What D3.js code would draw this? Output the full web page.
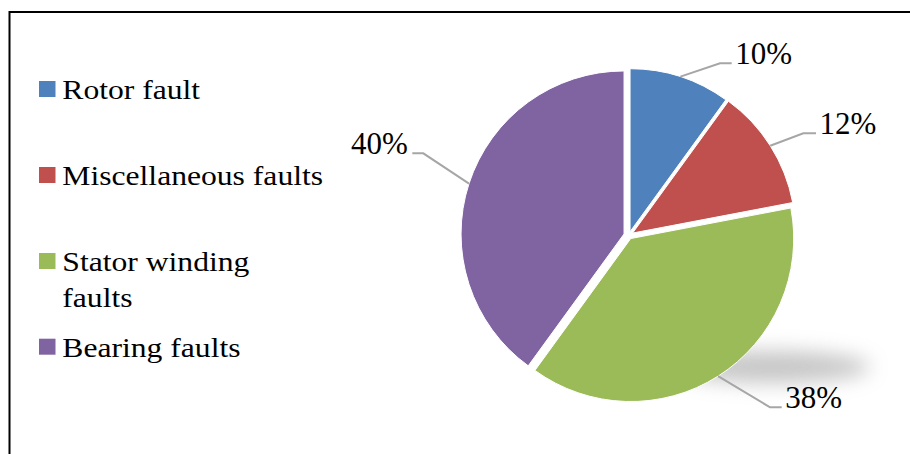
<!DOCTYPE html>
<html>
<head>
<meta charset="utf-8">
<script src="https://cdn.jsdelivr.net/npm/d3@7"></script>
<style>
  body { margin: 0; background: #fff; }
  svg { display: block; }
</style>
</head>
<body>
<svg width="910" height="454"></svg>
<script>
const categories = ['Rotor fault', 'Miscellaneous faults', 'Stator winding faults', 'Bearing faults']
const shares = [10, 12, 38, 40]
const labels = ['10%', '12%', '38%', '40%']
const colors = ['#4f81bd', '#c0504d', '#9bbb59', '#8064a2']
const font = '"Liberation Serif", "Times New Roman", serif'

const svg = d3.select('svg')
const width = +svg.attr('width')
const height = +svg.attr('height')

// frame (only top + left visible in the crop)
svg.append('path')
  .attr('d', `M9.5,${height} V12 H${width}`)
  .attr('fill', 'none')
  .attr('stroke', '#000')
  .attr('stroke-width', 2)

// soft shadow under the pie
const defs = svg.append('defs')
defs.append('filter').attr('id', 'blur')
  .attr('x', '-50%').attr('y', '-150%').attr('width', '200%').attr('height', '400%')
  .append('feGaussianBlur').attr('stdDeviation', 10)

svg.append('ellipse')
  .attr('cx', 772).attr('cy', 367)
  .attr('rx', 98).attr('ry', 16)
  .attr('fill', '#b4b4b4')
  .attr('opacity', 0.75)
  .attr('filter', 'url(#blur)')

const cx = 628.8, cy = 235.5, radius = 163
const explode = [4, 4.5, 3.6, 5]

const pie = d3.pie().sort(null).value(d => d)
const arcs = pie(shares)
const arc = d3.arc().innerRadius(0).outerRadius(radius)

const g = svg.append('g').attr('transform', `translate(${cx},${cy})`)

const offset = (d, i) => {
  const a = (d.startAngle + d.endAngle) / 2
  return [Math.sin(a) * explode[i], -Math.cos(a) * explode[i]]
}

g.selectAll('.slice')
  .data(arcs)
  .enter()
  .append('path')
  .attr('class', 'slice')
  .attr('transform', (d, i) => `translate(${offset(d, i)})`)
  .attr('d', arc)
  .attr('fill', (d, i) => colors[i])
  .attr('stroke', '#fff')
  .attr('stroke-width', 1)

// data labels with leader lines (elbow + label anchor positions, relative to pie centre)
const labelPos = [
  { elbow: [91.2, -172.2], end: [102.9, -172.2], anchor: 'start' },
  { elbow: [174.5, -102.2], end: [187.2, -102.2], anchor: 'start' },
  { elbow: [141.2, 171.8], end: [152.9, 171.8], anchor: 'start' },
  { elbow: [-205.5, -82.2], end: [-216.5, -82.2], anchor: 'end' }
]

arcs.forEach((d, i) => {
  const a = (d.startAngle + d.endAngle) / 2
  const o = offset(d, i)
  const p0 = [o[0] + Math.sin(a) * radius, o[1] - Math.cos(a) * radius]
  const lp = labelPos[i]
  g.append('path')
    .attr('d', d3.line()([p0, lp.elbow, lp.end]))
    .attr('fill', 'none')
    .attr('stroke', '#a6a6a6')
    .attr('stroke-width', 2)
  g.append('text')
    .attr('x', lp.end[0] + (lp.anchor === 'start' ? 3.5 : -4.5))
    .attr('y', lp.end[1] + 1)
    .attr('text-anchor', lp.anchor)
    .style('font-family', font)
    .style('font-size', '31px')
    .text(labels[i])
})

// legend
const legendRows = [
  { y: 99, lines: ['Rotor fault'] },
  { y: 185, lines: ['Miscellaneous faults'] },
  { y: 271, lines: ['Stator winding', 'faults'] },
  { y: 356.7, lines: ['Bearing faults'] }
]

const legend = svg.append('g')
legendRows.forEach((r, i) => {
  legend.append('rect')
    .attr('x', 39).attr('y', r.y - 18)
    .attr('width', 16.5).attr('height', 16)
    .attr('fill', colors[i])
  const t = legend.append('text')
    .attr('transform', `translate(62.3,${r.y}) scale(1.15,1)`)
    .style('font-family', font)
    .style('font-size', '27.5px')
  r.lines.forEach((line, j) => {
    t.append('tspan').attr('x', 0).attr('y', j * 35.7).text(line)
  })
})
</script>
</body>
</html>
